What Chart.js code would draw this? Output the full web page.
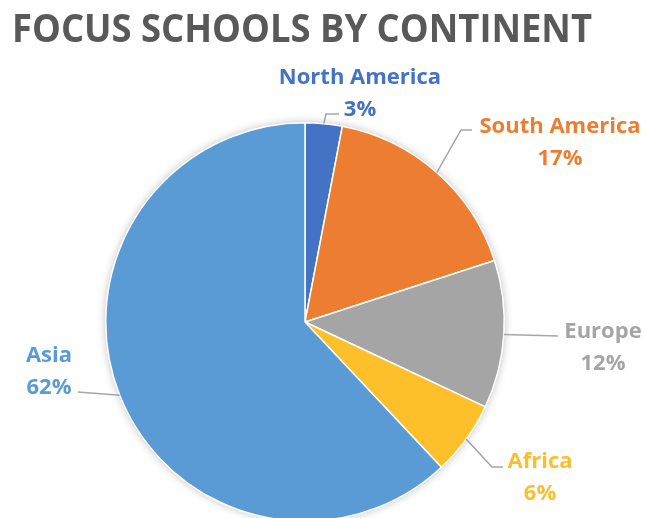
<!DOCTYPE html>
<html>
<head>
<meta charset="utf-8">
<script src="https://cdn.jsdelivr.net/npm/chart.js@4/dist/chart.umd.min.js"></script>
<style>
  html, body { margin: 0; padding: 0; background: #fff; overflow: hidden; }
  #wrap { width: 647px; height: 540px; position: relative; }
</style>
</head>
<body>
<div id="wrap"><canvas id="myChart"></canvas></div>
<script>
const titleText = "FOCUS SCHOOLS BY CONTINENT";
const continents = ["North America", "South America", "Europe", "Africa", "Asia"];
const shares = [3, 17, 12, 6, 62];
const colores = ["#4472C4", "#ED7D31", "#A5A5A5", "#FDBF2A", "#5B9BD5"];
const labelColores = ["#4472C4", "#ED7D31", "#A5A5A5", "#FBBF2D", "#5B9BD5"];

// where each label sits (center x, cap-middle y of first line) and its leader line bends
const labelPos = [[360, 76], [560, 125], [603, 330], [540, 460], [49, 354]];
const leaders = [
  [[326, 114], [339, 114]],
  [[461, 130], [472, 130]],
  [[558, 336]],
  [[492, 467], [503, 467]],
  [[78, 392]],
];

const FONT = "'Open Sans', 'Noto Sans', sans-serif";

const pieShadow = {
  id: "pieShadow",
  beforeDatasetsDraw(chart) {
    const arc = chart.getDatasetMeta(0).data[0];
    const ctx = chart.ctx;
    ctx.save();
    ctx.shadowColor = "rgba(0,0,0,0.28)";
    ctx.shadowBlur = 9;
    ctx.beginPath();
    ctx.arc(arc.x, arc.y, arc.outerRadius, 0, Math.PI * 2);
    ctx.fillStyle = "#fff";
    ctx.fill();
    ctx.restore();
  },
};

const labelsPlugin = {
  id: "labelsPlugin",
  afterDraw(chart) {
    const ctx = chart.ctx;
    const total = shares.reduce((a, b) => a + b, 0);

    // title
    ctx.save();
    ctx.font = "bold 39px " + FONT;
    ctx.fillStyle = "#595959";
    ctx.textBaseline = "alphabetic";
    const w = ctx.measureText(titleText).width;
    ctx.translate(12, 42);
    ctx.scale(580 / w, 1);
    ctx.fillText(titleText, 0, 0);
    ctx.restore();

    const arcs = chart.getDatasetMeta(0).data;
    arcs.forEach((arc, i) => {
      const mid = (arc.startAngle + arc.endAngle) / 2;
      const sx = arc.x + Math.cos(mid) * arc.outerRadius;
      const sy = arc.y + Math.sin(mid) * arc.outerRadius;

      ctx.save();
      ctx.strokeStyle = "#A6A6A6";
      ctx.lineWidth = 1.5;
      ctx.beginPath();
      ctx.moveTo(sx, sy);
      leaders[i].forEach((p) => ctx.lineTo(p[0], p[1]));
      ctx.stroke();

      ctx.font = "bold 22px " + FONT;
      ctx.fillStyle = labelColores[i];
      ctx.textAlign = "center";
      ctx.textBaseline = "alphabetic";
      const [cx, cy] = labelPos[i];
      ctx.fillText(continents[i], cx, cy + 8);
      ctx.fillText(Math.round((shares[i] / total) * 100) + "%", cx, cy + 40);
      ctx.restore();
    });
  },
};

chart = new Chart("myChart", {
  type: "pie",
  data: {
    labels: continents,
    datasets: [
      {
        data: shares,
        backgroundColor: colores,
        borderColor: "#ffffff",
        borderWidth: 1.5,
      },
    ],
  },
  options: {
    responsive: true,
    maintainAspectRatio: false,
    animation: false,
    layout: { padding: { left: 105, right: 142, top: 122, bottom: 18 } },
    plugins: {
      legend: { display: false },
      tooltip: { enabled: false },
    },
  },
  plugins: [pieShadow, labelsPlugin],
});
</script>
</body>
</html>
